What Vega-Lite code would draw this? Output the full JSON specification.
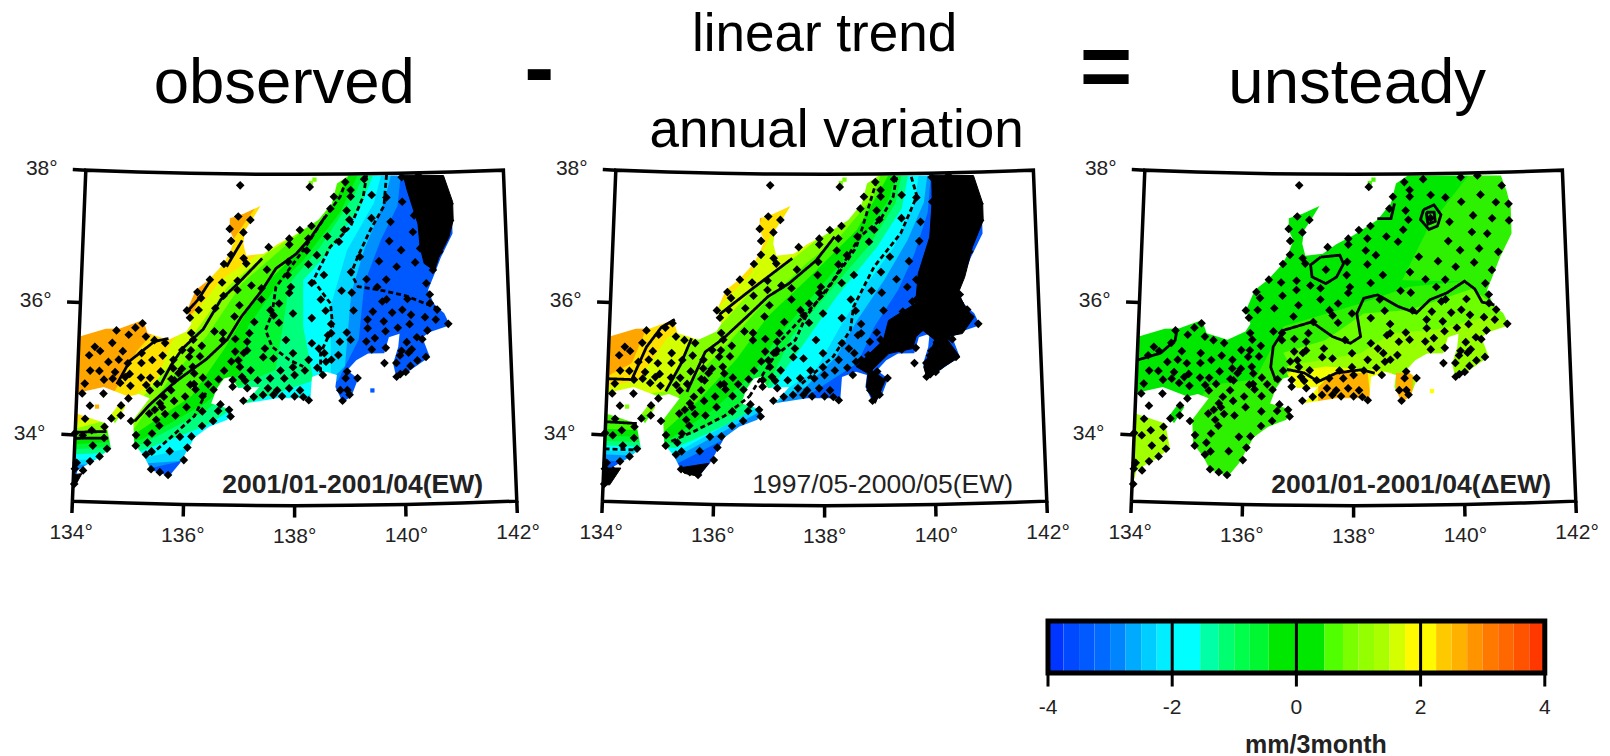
{
"$schema":"https://vega.github.io/schema/vega-lite/v6.json",
"autosize":{"type":"pad"},"padding":0,"background":"white","spacing":0,
"config":{"view":{"stroke":null},"concat":{"spacing":0},"text":{"font":"Liberation Sans"}},
"datasets":{
"stations":[{"lon":136.96,"lat":37.83},{"lon":138.29,"lat":37.81},{"lon":138.97,"lat":37.88},{"lon":139.33,"lat":37.92},{"lon":140.05,"lat":37.94},{"lon":140.37,"lat":37.96},{"lon":140.83,"lat":37.8},{"lon":139.07,"lat":37.76},{"lon":139.07,"lat":37.66},{"lon":139.47,"lat":37.68},{"lon":139.75,"lat":37.64},{"lon":140.05,"lat":37.57},{"lon":140.42,"lat":37.67},{"lon":140.71,"lat":37.55},{"lon":140.95,"lat":37.52},{"lon":138.75,"lat":37.66},{"lon":138.68,"lat":37.48},{"lon":138.99,"lat":37.45},{"lon":139.46,"lat":37.33},{"lon":139.82,"lat":37.27},{"lon":140.27,"lat":37.36},{"lon":140.63,"lat":37.31},{"lon":140.95,"lat":37.27},{"lon":139.04,"lat":37.31},{"lon":136.93,"lat":37.36},{"lon":137.16,"lat":37.31},{"lon":138.32,"lat":37.22},{"lon":138.1,"lat":37.16},{"lon":138.94,"lat":37.16},{"lon":140.24,"lat":37.11},{"lon":140.53,"lat":37.08},{"lon":136.77,"lat":37.17},{"lon":137.03,"lat":37.12},{"lon":137.9,"lat":37.03},{"lon":138.26,"lat":37.03},{"lon":138.62,"lat":37.06},{"lon":137.9,"lat":36.94},{"lon":138.84,"lat":36.98},{"lon":139.79,"lat":36.98},{"lon":140.37,"lat":36.86},{"lon":140.01,"lat":36.84},{"lon":136.8,"lat":36.99},{"lon":137.51,"lat":36.9},{"lon":138.23,"lat":36.85},{"lon":138.42,"lat":36.78},{"lon":136.8,"lat":36.78},{"lon":139.23,"lat":36.75},{"lon":140.73,"lat":36.8},{"lon":137.04,"lat":36.73},{"lon":137.09,"lat":36.65},{"lon":137.48,"lat":36.56},{"lon":137.88,"lat":36.68},{"lon":136.67,"lat":36.64},{"lon":138.26,"lat":36.64},{"lon":139.59,"lat":36.68},{"lon":139.92,"lat":36.59},{"lon":140.27,"lat":36.65},{"lon":140.6,"lat":36.53},{"lon":137.87,"lat":36.48},{"lon":138.55,"lat":36.48},{"lon":139.06,"lat":36.52},{"lon":139.35,"lat":36.41},{"lon":139.72,"lat":36.4},{"lon":140.47,"lat":36.33},{"lon":136.41,"lat":36.4},{"lon":136.64,"lat":36.36},{"lon":136.93,"lat":36.39},{"lon":137.19,"lat":36.32},{"lon":137.93,"lat":36.3},{"lon":138.32,"lat":36.36},{"lon":138.88,"lat":36.24},{"lon":139.07,"lat":36.21},{"lon":139.55,"lat":36.29},{"lon":136.18,"lat":36.21},{"lon":136.67,"lat":36.16},{"lon":136.93,"lat":36.25},{"lon":137.38,"lat":36.28},{"lon":137.9,"lat":36.21},{"lon":136.25,"lat":36.12},{"lon":137.38,"lat":36.11},{"lon":138.49,"lat":36.11},{"lon":140.53,"lat":36.16},{"lon":139.72,"lat":36.1},{"lon":136.97,"lat":36.02},{"lon":137.71,"lat":36.05},{"lon":140.11,"lat":36.1},{"lon":139.64,"lat":36.07},{"lon":137.97,"lat":35.9},{"lon":135.99,"lat":35.93},{"lon":136.21,"lat":35.94},{"lon":136.52,"lat":35.97},{"lon":137.55,"lat":35.95},{"lon":138.58,"lat":35.94},{"lon":139.1,"lat":35.94},{"lon":139.46,"lat":35.92},{"lon":139.82,"lat":35.9},{"lon":140.01,"lat":35.94},{"lon":140.17,"lat":35.86},{"lon":140.43,"lat":35.82},{"lon":140.66,"lat":35.93},{"lon":140.53,"lat":36.03},{"lon":136.05,"lat":35.82},{"lon":136.88,"lat":35.85},{"lon":137.61,"lat":35.87},{"lon":138.32,"lat":35.83},{"lon":139.36,"lat":35.8},{"lon":139.66,"lat":35.77},{"lon":139.92,"lat":35.67},{"lon":140.14,"lat":35.72},{"lon":140.63,"lat":35.78},{"lon":140.86,"lat":35.71},{"lon":137.25,"lat":35.77},{"lon":137.71,"lat":35.76},{"lon":138.68,"lat":35.74},{"lon":138.97,"lat":35.61},{"lon":139.36,"lat":35.67},{"lon":139.69,"lat":35.62},{"lon":140.47,"lat":35.62},{"lon":135.17,"lat":35.72},{"lon":135.04,"lat":35.65},{"lon":136.51,"lat":35.62},{"lon":136.67,"lat":35.6},{"lon":137.16,"lat":35.6},{"lon":136.08,"lat":35.59},{"lon":134.92,"lat":35.54},{"lon":135.24,"lat":35.52},{"lon":134.69,"lat":35.6},{"lon":138.62,"lat":35.57},{"lon":138.68,"lat":35.6},{"lon":139.49,"lat":35.52},{"lon":139.33,"lat":35.47},{"lon":140.08,"lat":35.45},{"lon":140.27,"lat":35.52},{"lon":140.37,"lat":35.49},{"lon":135.4,"lat":35.47},{"lon":135.6,"lat":35.43},{"lon":134.62,"lat":35.41},{"lon":136.12,"lat":35.49},{"lon":136.67,"lat":35.49},{"lon":136.9,"lat":35.51},{"lon":137.12,"lat":35.47},{"lon":137.84,"lat":35.5},{"lon":138.32,"lat":35.45},{"lon":138.84,"lat":35.47},{"lon":139.04,"lat":35.5},{"lon":134.3,"lat":35.34},{"lon":134.82,"lat":35.29},{"lon":135.17,"lat":35.27},{"lon":135.92,"lat":35.33},{"lon":136.08,"lat":35.33},{"lon":136.28,"lat":35.4},{"lon":137.12,"lat":35.34},{"lon":137.45,"lat":35.37},{"lon":138.45,"lat":35.37},{"lon":138.55,"lat":35.3},{"lon":139.43,"lat":35.35},{"lon":139.69,"lat":35.37},{"lon":140.17,"lat":35.34},{"lon":139.98,"lat":35.32},{"lon":134.2,"lat":35.21},{"lon":134.4,"lat":35.28},{"lon":135.56,"lat":35.24},{"lon":134.75,"lat":35.16},{"lon":135.76,"lat":35.18},{"lon":136.05,"lat":35.23},{"lon":136.25,"lat":35.24},{"lon":136.9,"lat":35.32},{"lon":137.06,"lat":35.3},{"lon":137.42,"lat":35.24},{"lon":137.61,"lat":35.22},{"lon":137.97,"lat":35.3},{"lon":138.68,"lat":35.2},{"lon":138.81,"lat":35.27},{"lon":140.43,"lat":35.22},{"lon":140.27,"lat":35.17},{"lon":139.95,"lat":35.25},{"lon":140.11,"lat":35.29},{"lon":134.56,"lat":35.12},{"lon":134.92,"lat":35.11},{"lon":135.17,"lat":35.12},{"lon":135.37,"lat":35.17},{"lon":135.76,"lat":35.05},{"lon":136.12,"lat":35.08},{"lon":136.83,"lat":35.17},{"lon":136.96,"lat":35.19},{"lon":136.99,"lat":35.09},{"lon":138.26,"lat":35.2},{"lon":138.58,"lat":35.17},{"lon":139.88,"lat":35.14},{"lon":140.14,"lat":35.09},{"lon":139.66,"lat":35.14},{"lon":134.23,"lat":34.98},{"lon":134.4,"lat":34.98},{"lon":134.69,"lat":34.97},{"lon":134.96,"lat":34.95},{"lon":135.34,"lat":34.9},{"lon":135.53,"lat":35},{"lon":135.73,"lat":34.89},{"lon":135.92,"lat":35.05},{"lon":136.15,"lat":34.98},{"lon":136.7,"lat":35.03},{"lon":137.19,"lat":35.04},{"lon":137.74,"lat":35.04},{"lon":137.97,"lat":35.09},{"lon":138.19,"lat":35.04},{"lon":138.42,"lat":35.08},{"lon":138.97,"lat":35.02},{"lon":140.05,"lat":35},{"lon":139.95,"lat":34.97},{"lon":139.88,"lat":34.93},{"lon":134.14,"lat":34.78},{"lon":134.49,"lat":34.85},{"lon":134.65,"lat":34.87},{"lon":134.88,"lat":34.9},{"lon":135.17,"lat":34.9},{"lon":135.86,"lat":34.98},{"lon":136.15,"lat":34.82},{"lon":136.31,"lat":34.92},{"lon":136.41,"lat":34.82},{"lon":136.6,"lat":34.9},{"lon":136.86,"lat":34.89},{"lon":137.03,"lat":34.94},{"lon":137.09,"lat":34.88},{"lon":137.32,"lat":34.89},{"lon":137.55,"lat":34.92},{"lon":137.81,"lat":34.92},{"lon":138,"lat":34.97},{"lon":138.52,"lat":34.97},{"lon":139.16,"lat":34.92},{"lon":138.94,"lat":34.92},{"lon":134.49,"lat":34.64},{"lon":134.1,"lat":34.63},{"lon":134.79,"lat":34.81},{"lon":134.98,"lat":34.77},{"lon":135.27,"lat":34.79},{"lon":135.47,"lat":34.81},{"lon":135.79,"lat":34.87},{"lon":135.73,"lat":34.72},{"lon":136.08,"lat":34.81},{"lon":136.51,"lat":34.74},{"lon":136.86,"lat":34.79},{"lon":137.13,"lat":34.77},{"lon":137.51,"lat":34.77},{"lon":137.68,"lat":34.74},{"lon":137.9,"lat":34.77},{"lon":138.1,"lat":34.74},{"lon":138.84,"lat":34.74},{"lon":138.97,"lat":34.74},{"lon":134.25,"lat":34.45},{"lon":134.95,"lat":34.58},{"lon":135.34,"lat":34.71},{"lon":135.6,"lat":34.62},{"lon":135.53,"lat":34.52},{"lon":135.79,"lat":34.56},{"lon":135.99,"lat":34.63},{"lon":136.18,"lat":34.74},{"lon":136.31,"lat":34.64},{"lon":137.25,"lat":34.64},{"lon":137.06,"lat":34.58},{"lon":137.42,"lat":34.67},{"lon":137.61,"lat":34.67},{"lon":137.77,"lat":34.65},{"lon":138,"lat":34.65},{"lon":138.16,"lat":34.64},{"lon":138.26,"lat":34.59},{"lon":138.88,"lat":34.58},{"lon":139.01,"lat":34.67},{"lon":134.82,"lat":34.47},{"lon":135.57,"lat":34.46},{"lon":135.63,"lat":34.36},{"lon":135.44,"lat":34.42},{"lon":135.82,"lat":34.34},{"lon":136.02,"lat":34.47},{"lon":136.31,"lat":34.41},{"lon":136.64,"lat":34.52},{"lon":136.6,"lat":34.42},{"lon":136.8,"lat":34.44},{"lon":136.83,"lat":34.34},{"lon":134.82,"lat":34.32},{"lon":134.65,"lat":34.27},{"lon":135.01,"lat":34.24},{"lon":135.47,"lat":34.27},{"lon":135.34,"lat":34.36},{"lon":135.53,"lat":34.18},{"lon":136.31,"lat":34.19},{"lon":136.51,"lat":34.27},{"lon":134.17,"lat":34.25},{"lon":134.53,"lat":34.14},{"lon":134.3,"lat":34.08},{"lon":134.14,"lat":34},{"lon":135.11,"lat":34.03},{"lon":135.4,"lat":34.06},{"lon":134.53,"lat":33.97},{"lon":134,"lat":34.03},{"lon":136.12,"lat":34.03},{"lon":135.91,"lat":34.02},{"lon":134.33,"lat":33.85},{"lon":135.11,"lat":33.87},{"lon":135.32,"lat":33.92},{"lon":134.59,"lat":33.81},{"lon":136.05,"lat":33.86},{"lon":135.73,"lat":33.8},{"lon":135.4,"lat":33.79},{"lon":135.3,"lat":33.74},{"lon":134.46,"lat":33.69},{"lon":134.29,"lat":33.61},{"lon":134.05,"lat":33.58},{"lon":134.17,"lat":33.47},{"lon":134.02,"lat":33.49},{"lon":135.4,"lat":33.52},{"lon":135.56,"lat":33.48},{"lon":135.71,"lat":33.44},{"lon":134.02,"lat":33.26},{"lon":135.99,"lat":33.67}],
"frame":[{"id":"box","lon":134,"lat":33},{"id":"box","lon":134,"lat":38},{"id":"box","lon":135,"lat":38},{"id":"box","lon":136,"lat":38},{"id":"box","lon":137,"lat":38},{"id":"box","lon":138,"lat":38},{"id":"box","lon":139,"lat":38},{"id":"box","lon":140,"lat":38},{"id":"box","lon":141,"lat":38},{"id":"box","lon":142,"lat":38},{"id":"box","lon":142,"lat":33},{"id":"box","lon":141,"lat":33},{"id":"box","lon":140,"lat":33},{"id":"box","lon":139,"lat":33},{"id":"box","lon":138,"lat":33},{"id":"box","lon":137,"lat":33},{"id":"box","lon":136,"lat":33},{"id":"box","lon":135,"lat":33},{"id":"box","lon":134,"lat":33},{"id":"t134","lon":134,"lat":33},{"id":"t134","lon":134,"lat":32.82},{"id":"t136","lon":136,"lat":33},{"id":"t136","lon":136,"lat":32.82},{"id":"t138","lon":138,"lat":33},{"id":"t138","lon":138,"lat":32.82},{"id":"t140","lon":140,"lat":33},{"id":"t140","lon":140,"lat":32.82},{"id":"t142","lon":142,"lat":33},{"id":"t142","lon":142,"lat":32.82},{"id":"l38","lon":134,"lat":38},{"id":"l38","lon":133.75,"lat":38},{"id":"l36","lon":134,"lat":36},{"id":"l36","lon":133.75,"lat":36},{"id":"l34","lon":134,"lat":34},{"id":"l34","lon":133.75,"lat":34}],
"ticklabels":[{"lon":134,"lat":32.52,"t":"134°"},{"lon":136,"lat":32.52,"t":"136°"},{"lon":138,"lat":32.52,"t":"138°"},{"lon":140,"lat":32.52,"t":"140°"},{"lon":142,"lat":32.52,"t":"142°"}],
"latlabels":[{"lon":133.46,"lat":38,"t":"38°"},{"lon":133.46,"lat":36,"t":"36°"},{"lon":133.46,"lat":34,"t":"34°"}],
"mask":[{"type":"Feature","properties":{},"geometry":{"type":"Polygon","coordinates":[
[[133.7,32.8],[133.7,38.3],[142.3,38.3],[142.3,32.8],[133.7,32.8]],
[[134.49,34.74],[134.95,34.61],[135.14,34.65],[135.34,34.59],[135.05,34.26],[135.08,33.9],[135.27,33.71],[135.4,33.51],[135.73,33.42],[135.92,33.62],[136.18,34.02],[136.44,34.18],[136.77,34.29],[136.86,34.44],[136.47,34.53],[136.57,34.76],[136.7,34.91],[136.83,34.94],[136.96,34.77],[137.35,34.79],[137.09,34.54],[137.68,34.62],[138.29,34.62],[138.32,34.94],[138.58,35.02],[138.78,34.97],[138.75,34.79],[138.88,34.56],[139.04,34.64],[139.17,34.91],[138.97,35.04],[139.14,35.19],[139.36,35.29],[139.66,35.29],[139.75,35.53],[139.95,35.58],[139.92,35.38],[139.82,35.13],[139.88,34.9],[140.14,35.03],[140.5,35.22],[140.37,35.52],[140.53,35.6],[140.89,35.69],[140.79,35.87],[140.6,36.02],[140.5,36.23],[140.63,36.47],[140.76,36.72],[140.99,37.07],[140.99,37.47],[140.92,37.72],[140.82,37.95],[139.04,37.98],[138.81,37.86],[138.71,37.56],[138.45,37.31],[138,37.08],[137.68,36.95],[137.42,36.8],[137.09,36.77],[137.03,36.95],[137.06,37.15],[137.19,37.31],[137.35,37.52],[137.03,37.4],[136.77,37.33],[136.77,37.15],[136.86,37],[136.77,36.8],[136.64,36.62],[136.38,36.39],[136.15,36.24],[135.99,35.93],[136.08,35.73],[135.99,35.61],[135.66,35.48],[135.27,35.57],[135.18,35.77],[134.75,35.63],[134.49,35.62],[133.98,35.48],[133.98,34.63],[134.49,34.74]],
[[133.98,34.33],[133.98,33.28],[134.01,33.25],[134.07,33.47],[134.43,33.66],[134.66,33.82],[134.56,34.19],[133.98,34.33]],
[[134.62,34.3],[134.72,34.2],[134.9,34.45],[134.79,34.5],[134.62,34.3]]
]}}],
"bands":[
{"type":"Feature","properties":{"p":1,"v":2.7},"geometry":{"type":"Polygon","coordinates":[[[133.8,33],[133.8,38.1],[142.2,38.1],[142.2,33],[133.8,33]]]}},
{"type":"Feature","properties":{"p":1,"v":2.2},"geometry":{"type":"Polygon","coordinates":[[[133.8,34.19],[134.7,34.69],[135.08,35.3],[135.34,35.55],[136.11,35.9],[136.37,36.4],[136.88,37.06],[137.26,37.5],[137.65,38.1],[142.2,38.1],[142.2,33],[133.8,33],[133.8,34.19]]]}},
{"type":"Feature","properties":{"p":1,"v":1.6},"geometry":{"type":"Polygon","coordinates":[[[133.8,34.12],[134.76,34.44],[135.47,34.89],[135.72,35.45],[136.62,36.4],[137.33,36.8],[137.46,37.26],[138.29,38.1],[142.2,38.1],[142.2,33],[133.8,33],[133.8,34.12]]]}},
{"type":"Feature","properties":{"p":1,"v":1},"geometry":{"type":"Polygon","coordinates":[[[133.8,34.04],[134.96,34.34],[135.6,35],[135.98,35.4],[136.75,36.3],[137.46,36.8],[138.16,37.16],[138.67,38.1],[142.2,38.1],[142.2,33],[133.8,33],[133.8,34.04]]]}},
{"type":"Feature","properties":{"p":1,"v":0.5},"geometry":{"type":"Polygon","coordinates":[[[133.8,33.99],[135.08,34.14],[135.66,34.84],[136.37,35.55],[137.01,36.35],[137.65,36.8],[138.54,37.41],[138.93,38.1],[142.2,38.1],[142.2,33],[133.8,33],[133.8,33.99]]]}},
{"type":"Feature","properties":{"p":1,"v":0},"geometry":{"type":"Polygon","coordinates":[[[133.8,33.91],[135.08,34.04],[136.11,34.64],[136.69,35.35],[137.39,36.3],[138.03,36.8],[138.67,37.46],[139.12,38.1],[142.2,38.1],[142.2,33],[133.8,33],[133.8,33.91]]]}},
{"type":"Feature","properties":{"p":1,"v":-0.6},"geometry":{"type":"Polygon","coordinates":[[[133.8,33.84],[135.21,33.96],[136.37,34.54],[137.01,35],[137.13,35.7],[137.65,36.3],[138.16,36.7],[138.87,37.43],[139.28,38.1],[142.2,38.1],[142.2,33],[133.8,33],[133.8,33.84]]]}},
{"type":"Feature","properties":{"p":1,"v":-1.2},"geometry":{"type":"Polygon","coordinates":[[[133.8,33.76],[135.21,33.89],[136.37,34.42],[136.94,34.79],[137.65,35.05],[137.78,35.7],[137.9,36.35],[138.48,36.9],[139.12,37.66],[139.41,38.1],[142.2,38.1],[142.2,33],[133.8,33],[133.8,33.76]]]}},
{"type":"Feature","properties":{"p":1,"v":-1.8},"geometry":{"type":"Polygon","coordinates":[[[133.8,33.69],[135.21,33.79],[136.37,34.19],[136.94,34.49],[138.35,34.89],[138.16,35.7],[138.16,36.4],[138.67,36.85],[139.25,37.51],[139.57,38.1],[142.2,38.1],[142.2,33],[133.8,33],[133.8,33.69]]]}},
{"type":"Feature","properties":{"p":1,"v":-2.3},"geometry":{"type":"Polygon","coordinates":[[[133.8,33.61],[135.28,33.69],[136.11,33.86],[137.01,33.99],[138.67,34.89],[138.67,36],[138.99,36.85],[139.51,37.56],[139.7,38.1],[142.2,38.1],[142.2,33],[133.8,33],[133.8,33.61]]]}},
{"type":"Feature","properties":{"p":1,"v":-2.8},"geometry":{"type":"Polygon","coordinates":[[[133.8,33.54],[135.34,33.61],[136.37,33.69],[137.65,34.09],[138.93,35.1],[139.06,36.2],[139.31,36.85],[139.7,37.56],[139.89,38.1],[142.2,38.1],[142.2,33],[133.8,33],[133.8,33.54]]]}},
{"type":"Feature","properties":{"p":1,"v":-3.4},"geometry":{"type":"Polygon","coordinates":[[[133.8,33.46],[135.4,33.54],[137.65,33.99],[138.8,34.89],[139.19,35.5],[139.31,36.35],[139.63,37],[139.96,37.51],[140.05,38.1],[142.2,38.1],[142.2,33],[133.8,33],[133.8,33.46]]]}},
{"type":"Feature","properties":{"p":2,"v":2.7},"geometry":{"type":"Polygon","coordinates":[[[133.8,33],[133.8,38.1],[142.2,38.1],[142.2,33],[133.8,33]]]}},
{"type":"Feature","properties":{"p":2,"v":2.2},"geometry":{"type":"Polygon","coordinates":[[[133.8,34.79],[134.44,35.1],[134.7,35.65],[135.02,35.9],[136,36.1],[136.75,37.21],[136.88,37.51],[137.65,38.1],[142.2,38.1],[142.2,33],[133.8,33],[133.8,34.79]]]}},
{"type":"Feature","properties":{"p":2,"v":1.6},"geometry":{"type":"Polygon","coordinates":[[[133.8,34.69],[134.57,34.84],[135.08,35.5],[135.98,35.95],[136.62,36.5],[137.01,37.11],[137.39,37.56],[138.29,38.1],[142.2,38.1],[142.2,33],[133.8,33],[133.8,34.69]]]}},
{"type":"Feature","properties":{"p":2,"v":1},"geometry":{"type":"Polygon","coordinates":[[[133.8,34.49],[135.08,34.69],[135.47,35.4],[136.11,35.75],[136.69,36.3],[137.52,36.8],[138.16,37.21],[138.61,37.66],[138.93,38.1],[142.2,38.1],[142.2,33],[133.8,33],[133.8,34.49]]]}},
{"type":"Feature","properties":{"p":2,"v":0.5},"geometry":{"type":"Polygon","coordinates":[[[133.8,34.29],[135.08,34.34],[135.53,34.84],[136.17,35.4],[136.75,35.95],[137.65,36.65],[138.29,37.06],[138.93,37.66],[139.12,38.1],[142.2,38.1],[142.2,33],[133.8,33],[133.8,34.29]]]}},
{"type":"Feature","properties":{"p":2,"v":0},"geometry":{"type":"Polygon","coordinates":[[[133.8,34.09],[135.08,34.09],[135.66,34.54],[136.37,35.2],[136.94,35.85],[137.78,36.5],[138.61,37.16],[139.06,37.76],[139.31,38.1],[142.2,38.1],[142.2,33],[133.8,33],[133.8,34.09]]]}},
{"type":"Feature","properties":{"p":2,"v":-0.6},"geometry":{"type":"Polygon","coordinates":[[[133.8,33.99],[135.21,33.99],[135.98,34.44],[136.69,35],[137.13,35.55],[137.97,36.35],[138.74,37.06],[139.22,37.61],[139.41,38.1],[142.2,38.1],[142.2,33],[133.8,33],[133.8,33.99]]]}},
{"type":"Feature","properties":{"p":2,"v":-1.2},"geometry":{"type":"Polygon","coordinates":[[[133.8,33.91],[135.21,33.91],[136.24,34.34],[136.94,34.79],[137.39,35.55],[138.16,36.3],[138.87,36.95],[139.35,37.56],[139.51,38.1],[142.2,38.1],[142.2,33],[133.8,33],[133.8,33.91]]]}},
{"type":"Feature","properties":{"p":2,"v":-1.8},"geometry":{"type":"Polygon","coordinates":[[[133.8,33.84],[135.28,33.84],[136.56,34.34],[137.13,34.89],[137.58,35.4],[138.22,36.15],[138.99,36.9],[139.47,37.48],[139.63,38.1],[142.2,38.1],[142.2,33],[133.8,33],[133.8,33.84]]]}},
{"type":"Feature","properties":{"p":2,"v":-2.3},"geometry":{"type":"Polygon","coordinates":[[[133.8,33.76],[135.28,33.76],[137.01,34.59],[137.84,35.05],[138.29,35.7],[138.8,36.35],[139.31,36.9],[139.7,37.51],[139.83,38.1],[142.2,38.1],[142.2,33],[133.8,33],[133.8,33.76]]]}},
{"type":"Feature","properties":{"p":2,"v":-2.8},"geometry":{"type":"Polygon","coordinates":[[[133.8,33.71],[135.28,33.69],[137.65,34.79],[138.22,35.25],[138.61,35.8],[139.12,36.4],[139.57,37],[139.89,37.56],[139.99,38.1],[142.2,38.1],[142.2,33],[133.8,33],[133.8,33.71]]]}},
{"type":"Feature","properties":{"p":2,"v":-3.4},"geometry":{"type":"Polygon","coordinates":[[[133.8,33.61],[135.34,33.61],[137.65,34.64],[138.61,35.15],[138.93,35.7],[139.38,36.25],[139.7,36.8],[139.96,37.41],[140.05,38.1],[142.2,38.1],[142.2,33],[133.8,33],[133.8,33.61]]]}},
{"type":"Feature","properties":{"p":3,"v":0.1},"geometry":{"type":"Polygon","coordinates":[[[133.8,33],[133.8,38.1],[142.2,38.1],[142.2,33],[133.8,33]]]}},
{"type":"Feature","properties":{"p":3,"v":0.35},"geometry":{"type":"Polygon","coordinates":[[[138.91,36.4],[139.43,37.21],[140.34,38.1],[141.12,38.1],[141.12,36.4],[140.53,36.35],[138.91,36.4]]]}},
{"type":"Feature","properties":{"p":3,"v":0.35},"geometry":{"type":"Polygon","coordinates":[[[135.01,34.34],[135.34,34.79],[136.18,34.89],[136.44,35.3],[136.7,35.7],[138.13,36.05],[139.04,36.3],[140.53,36.4],[141.12,35.7],[140.53,34.49],[136.77,34.24],[136.05,33.29],[135.01,33.29],[135.01,34.34]]]}},
{"type":"Feature","properties":{"p":3,"v":0.8},"geometry":{"type":"Polygon","coordinates":[[[136.7,35.3],[137.48,35.5],[138.19,35.9],[139.04,35.95],[140.21,36.25],[140.99,35.8],[140.53,34.89],[139.04,34.49],[137.09,34.69],[136.7,35.3]]]}},
{"type":"Feature","properties":{"p":3,"v":1.2},"geometry":{"type":"Polygon","coordinates":[[[136.77,35.1],[138.13,35.3],[138.71,35.6],[139.56,35.65],[140.6,35.85],[140.92,35.7],[140.53,34.94],[139.04,34.49],[137.09,34.59],[136.77,35.1]]]}},
{"type":"Feature","properties":{"p":3,"v":1.8},"geometry":{"type":"Polygon","coordinates":[[[136.77,35],[137.48,35.1],[138.39,35.05],[138.71,35],[138.39,34.54],[137.03,34.54],[136.77,35]]]}},
{"type":"Feature","properties":{"p":3,"v":2.6},"geometry":{"type":"Polygon","coordinates":[[[137.35,34.79],[137.61,35],[138.26,35],[138.32,34.54],[137.35,34.54],[137.35,34.79]]]}},
{"type":"Feature","properties":{"p":3,"v":2.6},"geometry":{"type":"Polygon","coordinates":[[[138.78,35],[139.1,35],[139.07,34.54],[138.78,34.54],[138.78,35]]]}},
{"type":"Feature","properties":{"p":3,"v":1.3},"geometry":{"type":"Polygon","coordinates":[[[133.84,34.37],[134.59,34.37],[134.69,33.74],[134.43,33.24],[133.84,33.24],[133.84,34.37]]]}}
],
"black":[
{"type":"Feature","properties":{"p":1},"geometry":{"type":"Polygon","coordinates":[[[140.08,37.97],[140.85,37.95],[141.01,37.55],[141.01,37.27],[140.92,37.02],[140.72,36.72],[140.63,36.52],[140.44,36.63],[140.37,36.88],[140.34,37.23],[140.15,37.74],[140.08,37.97]]]}},
{"type":"Feature","properties":{"p":2},"geometry":{"type":"Polygon","coordinates":[[[140.05,37.97],[140.85,37.95],[141.01,37.53],[141.01,37.27],[140.79,36.87],[140.63,36.42],[140.5,36.18],[140.66,35.92],[140.79,35.82],[140.56,35.57],[140.24,35.53],[140.5,35.22],[140.21,35.08],[139.89,34.9],[139.83,35.08],[140.05,35.48],[139.83,35.63],[139.7,35.54],[139.63,35.36],[139.19,35.29],[138.87,35.04],[139.12,34.89],[138.93,34.54],[138.77,34.79],[138.8,34.99],[138.58,35.1],[139.09,35.49],[139.19,35.79],[139.7,36.04],[139.76,36.49],[139.99,37.04],[140.05,37.59],[140.05,37.97]]]}},
{"type":"Feature","properties":{"p":2},"geometry":{"type":"Polygon","coordinates":[[[135.37,33.54],[135.9,33.62],[135.72,33.42],[135.46,33.46],[135.37,33.54]]]}},
{"type":"Feature","properties":{"p":2},"geometry":{"type":"Polygon","coordinates":[[[133.99,33.5],[134.31,33.51],[134.12,33.25],[133.99,33.25],[133.99,33.5]]]}},
{"type":"Feature","properties":{"p":1},"geometry":{"type":"Polygon","coordinates":[[[134,33.4],[134.15,33.42],[134.05,33.25],[134,33.25],[134,33.4]]]}}
],
"extras":[{"p":1,"lon":139.43,"lat":34.73,"v":-3.4},{"p":1,"lon":138.38,"lat":37.92,"v":0.9},{"p":1,"lon":138.31,"lat":37.87,"v":0.9},{"p":2,"lon":138.38,"lat":37.92,"v":0.9},{"p":2,"lon":138.31,"lat":37.87,"v":0.9},{"p":3,"lon":138.38,"lat":37.92,"v":0.5},{"p":3,"lon":138.31,"lat":37.87,"v":0.5},{"p":3,"lon":139.44,"lat":34.72,"v":1.9},{"p":1,"lon":134.38,"lat":34.44,"v":2.6},{"p":2,"lon":134.38,"lat":34.44,"v":1}],
"contours":[
{"p":1,"id":"a","s":"solid","lon":135.08,"lat":34.24},{"p":1,"id":"a","s":"solid","lon":135.34,"lat":34.49},{"p":1,"id":"a","s":"solid","lon":135.79,"lat":34.84},{"p":1,"id":"a","s":"solid","lon":136.37,"lat":35.2},{"p":1,"id":"a","s":"solid","lon":136.75,"lat":35.5},{"p":1,"id":"a","s":"solid","lon":137.01,"lat":35.85},{"p":1,"id":"a","s":"solid","lon":137.39,"lat":36.25},{"p":1,"id":"a","s":"solid","lon":137.65,"lat":36.58},{"p":1,"id":"a","s":"solid","lon":138.03,"lat":36.8},{"p":1,"id":"a","s":"solid","lon":138.32,"lat":37.06},{"p":1,"id":"a","s":"solid","lon":138.58,"lat":37.36},
{"p":1,"id":"c","s":"solid","lon":135.53,"lat":34.79},{"p":1,"id":"c","s":"solid","lon":135.72,"lat":35.1},{"p":1,"id":"c","s":"solid","lon":135.92,"lat":35.35},{"p":1,"id":"c","s":"solid","lon":136.3,"lat":35.65},{"p":1,"id":"c","s":"solid","lon":136.62,"lat":36.1},{"p":1,"id":"c","s":"solid","lon":136.94,"lat":36.35},{"p":1,"id":"c","s":"solid","lon":137.39,"lat":36.73},
{"p":1,"id":"b","s":"solid","lon":134.73,"lat":34.79},{"p":1,"id":"b","s":"solid","lon":134.96,"lat":35.15},{"p":1,"id":"b","s":"solid","lon":135.4,"lat":35.45},{"p":1,"id":"b","s":"solid","lon":135.66,"lat":35.5},
{"p":1,"id":"n","s":"solid","lon":136.72,"lat":36.6},{"p":1,"id":"n","s":"solid","lon":137.01,"lat":37},
{"p":1,"id":"m","s":"solid","lon":135.98,"lat":35.9},{"p":1,"id":"m","s":"solid","lon":136.2,"lat":36.1},{"p":1,"id":"m","s":"solid","lon":136.43,"lat":36.4},
{"p":1,"id":"h1","s":"solid","lon":134,"lat":34.04},{"p":1,"id":"h1","s":"solid","lon":134.57,"lat":34.07},
{"p":1,"id":"h2","s":"solid","lon":134,"lat":33.95},{"p":1,"id":"h2","s":"solid","lon":134.6,"lat":33.97},
{"p":1,"id":"d2","s":"dash","lon":139.76,"lat":37.98},{"p":1,"id":"d2","s":"dash","lon":139.7,"lat":37.51},{"p":1,"id":"d2","s":"dash","lon":139.44,"lat":37.16},{"p":1,"id":"d2","s":"dash","lon":139.19,"lat":36.75},{"p":1,"id":"d2","s":"dash","lon":139.06,"lat":36.5},{"p":1,"id":"d2","s":"dash","lon":139.19,"lat":36.3},{"p":1,"id":"d2","s":"dash","lon":139.57,"lat":36.25},{"p":1,"id":"d2","s":"dash","lon":140.08,"lat":36.15},{"p":1,"id":"d2","s":"dash","lon":140.66,"lat":35.95},
{"p":1,"id":"d3","s":"dash","lon":139.38,"lat":37.98},{"p":1,"id":"d3","s":"dash","lon":139.31,"lat":37.66},{"p":1,"id":"d3","s":"dash","lon":139.06,"lat":37.21},{"p":1,"id":"d3","s":"dash","lon":138.67,"lat":36.9},{"p":1,"id":"d3","s":"dash","lon":138.35,"lat":36.4},{"p":1,"id":"d3","s":"dash","lon":138.67,"lat":36.05},{"p":1,"id":"d3","s":"dash","lon":138.71,"lat":35.7},{"p":1,"id":"d3","s":"dash","lon":138.48,"lat":35.3},{"p":1,"id":"d3","s":"dash","lon":138.48,"lat":35},
{"p":1,"id":"d4","s":"dash","lon":138.99,"lat":37.91},{"p":1,"id":"d4","s":"dash","lon":138.87,"lat":37.66},{"p":1,"id":"d4","s":"dash","lon":138.54,"lat":37.31},{"p":1,"id":"d4","s":"dash","lon":138.16,"lat":36.85},{"p":1,"id":"d4","s":"dash","lon":137.65,"lat":36.3},{"p":1,"id":"d4","s":"dash","lon":137.58,"lat":35.9},{"p":1,"id":"d4","s":"dash","lon":137.46,"lat":35.65},{"p":1,"id":"d4","s":"dash","lon":137.58,"lat":35.4},{"p":1,"id":"d4","s":"dash","lon":137.9,"lat":35.2},{"p":1,"id":"d4","s":"dash","lon":138.16,"lat":35.1},
{"p":1,"id":"d5","s":"dash","lon":135.39,"lat":33.74},{"p":1,"id":"d5","s":"dash","lon":135.72,"lat":33.99},{"p":1,"id":"d5","s":"dash","lon":136.17,"lat":34.34},{"p":1,"id":"d5","s":"dash","lon":136.37,"lat":34.69},
{"p":2,"id":"a","s":"solid","lon":135.47,"lat":34.69},{"p":2,"id":"a","s":"solid","lon":135.79,"lat":35.3},{"p":2,"id":"a","s":"solid","lon":136.11,"lat":35.5},{"p":2,"id":"a","s":"solid","lon":136.56,"lat":35.85},{"p":2,"id":"a","s":"solid","lon":136.94,"lat":36.15},{"p":2,"id":"a","s":"solid","lon":137.33,"lat":36.35},{"p":2,"id":"a","s":"solid","lon":137.84,"lat":36.7},{"p":2,"id":"a","s":"solid","lon":138.19,"lat":37.06},
{"p":2,"id":"b","s":"solid","lon":136.04,"lat":35.87},{"p":2,"id":"b","s":"solid","lon":136.62,"lat":36.25},{"p":2,"id":"b","s":"solid","lon":137.39,"lat":36.73},
{"p":2,"id":"c","s":"solid","lon":134,"lat":34.85},{"p":2,"id":"c","s":"solid","lon":134.45,"lat":34.85},{"p":2,"id":"c","s":"solid","lon":134.7,"lat":35.35},{"p":2,"id":"c","s":"solid","lon":134.96,"lat":35.65},{"p":2,"id":"c","s":"solid","lon":135.21,"lat":35.78},
{"p":2,"id":"e","s":"solid","lon":135.08,"lat":34.69},{"p":2,"id":"e","s":"solid","lon":135.34,"lat":35.1},{"p":2,"id":"e","s":"solid","lon":135.53,"lat":35.5},
{"p":2,"id":"f","s":"solid","lon":134,"lat":34.2},{"p":2,"id":"f","s":"solid","lon":134.57,"lat":34.19},
{"p":2,"id":"d0","s":"dash","lon":135.21,"lat":33.94},{"p":2,"id":"d0","s":"dash","lon":135.6,"lat":34.09},{"p":2,"id":"d0","s":"dash","lon":136.17,"lat":34.34},{"p":2,"id":"d0","s":"dash","lon":136.62,"lat":34.64},
{"p":2,"id":"d1","s":"dash","lon":136.62,"lat":34.64},{"p":2,"id":"d1","s":"dash","lon":136.88,"lat":35},{"p":2,"id":"d1","s":"dash","lon":137.07,"lat":35.25},{"p":2,"id":"d1","s":"dash","lon":137.46,"lat":35.5},{"p":2,"id":"d1","s":"dash","lon":137.65,"lat":35.85},{"p":2,"id":"d1","s":"dash","lon":138.16,"lat":36.4},{"p":2,"id":"d1","s":"dash","lon":138.67,"lat":37.06},{"p":2,"id":"d1","s":"dash","lon":139.06,"lat":37.31},{"p":2,"id":"d1","s":"dash","lon":139.31,"lat":37.66},{"p":2,"id":"d1","s":"dash","lon":139.38,"lat":37.98},
{"p":2,"id":"d2","s":"dash","lon":137.58,"lat":34.84},{"p":2,"id":"d2","s":"dash","lon":138.16,"lat":35.25},{"p":2,"id":"d2","s":"dash","lon":138.48,"lat":35.65},{"p":2,"id":"d2","s":"dash","lon":138.54,"lat":36},{"p":2,"id":"d2","s":"dash","lon":138.93,"lat":36.6},{"p":2,"id":"d2","s":"dash","lon":139.44,"lat":37.1},{"p":2,"id":"d2","s":"dash","lon":139.76,"lat":37.66},{"p":2,"id":"d2","s":"dash","lon":139.65,"lat":37.98},
{"p":2,"id":"d3","s":"dash","lon":137.2,"lat":35.5},{"p":2,"id":"d3","s":"dash","lon":138,"lat":36.2},{"p":2,"id":"d3","s":"dash","lon":138.6,"lat":36.9},{"p":2,"id":"d3","s":"dash","lon":139,"lat":37.91},
{"p":2,"id":"d4","s":"dash","lon":134,"lat":33.79},{"p":2,"id":"d4","s":"dash","lon":134.57,"lat":33.79},
{"p":3,"id":"main","s":"solid","lon":136.57,"lat":34.87},{"p":3,"id":"main","s":"solid","lon":136.47,"lat":35.08},{"p":3,"id":"main","s":"solid","lon":136.51,"lat":35.39},{"p":3,"id":"main","s":"solid","lon":136.7,"lat":35.64},{"p":3,"id":"main","s":"solid","lon":137.22,"lat":35.77},{"p":3,"id":"main","s":"solid","lon":137.61,"lat":35.55},{"p":3,"id":"main","s":"solid","lon":137.94,"lat":35.45},{"p":3,"id":"main","s":"solid","lon":138.13,"lat":35.55},{"p":3,"id":"main","s":"solid","lon":138.06,"lat":35.9},{"p":3,"id":"main","s":"solid","lon":138.19,"lat":36.13},{"p":3,"id":"main","s":"solid","lon":138.45,"lat":36.18},{"p":3,"id":"main","s":"solid","lon":138.84,"lat":36},{"p":3,"id":"main","s":"solid","lon":139.17,"lat":35.9},{"p":3,"id":"main","s":"solid","lon":139.43,"lat":36.1},{"p":3,"id":"main","s":"solid","lon":139.75,"lat":36.2},{"p":3,"id":"main","s":"solid","lon":140.08,"lat":36.37},{"p":3,"id":"main","s":"solid","lon":140.27,"lat":36.25},{"p":3,"id":"main","s":"solid","lon":140.4,"lat":36.05},{"p":3,"id":"main","s":"solid","lon":140.63,"lat":36},
{"p":3,"id":"l1","s":"solid","lon":137.38,"lat":36.75},{"p":3,"id":"l1","s":"solid","lon":137.74,"lat":36.78},{"p":3,"id":"l1","s":"solid","lon":137.81,"lat":36.65},{"p":3,"id":"l1","s":"solid","lon":137.68,"lat":36.45},{"p":3,"id":"l1","s":"solid","lon":137.48,"lat":36.35},{"p":3,"id":"l1","s":"solid","lon":137.22,"lat":36.45},{"p":3,"id":"l1","s":"solid","lon":137.19,"lat":36.63},{"p":3,"id":"l1","s":"solid","lon":137.38,"lat":36.75},
{"p":3,"id":"l2","s":"solid","lon":139.33,"lat":37.46},{"p":3,"id":"l2","s":"solid","lon":139.53,"lat":37.53},{"p":3,"id":"l2","s":"solid","lon":139.66,"lat":37.38},{"p":3,"id":"l2","s":"solid","lon":139.59,"lat":37.21},{"p":3,"id":"l2","s":"solid","lon":139.43,"lat":37.16},{"p":3,"id":"l2","s":"solid","lon":139.27,"lat":37.31},{"p":3,"id":"l2","s":"solid","lon":139.33,"lat":37.46},
{"p":3,"id":"l3","s":"solid","lon":139.38,"lat":37.42},{"p":3,"id":"l3","s":"solid","lon":139.53,"lat":37.42},{"p":3,"id":"l3","s":"solid","lon":139.55,"lat":37.28},{"p":3,"id":"l3","s":"solid","lon":139.41,"lat":37.24},{"p":3,"id":"l3","s":"solid","lon":139.38,"lat":37.42},
{"p":3,"id":"arc","s":"solid","lon":138.45,"lat":37.33},{"p":3,"id":"arc","s":"solid","lon":138.71,"lat":37.33},{"p":3,"id":"arc","s":"solid","lon":138.78,"lat":37.56},
{"p":3,"id":"w","s":"solid","lon":134,"lat":35.13},{"p":3,"id":"w","s":"solid","lon":134.43,"lat":35.25},{"p":3,"id":"w","s":"solid","lon":134.69,"lat":35.45},{"p":3,"id":"w","s":"solid","lon":134.72,"lat":35.63},
{"p":3,"id":"s","s":"solid","lon":136.77,"lat":35.05},{"p":3,"id":"s","s":"solid","lon":137.09,"lat":35},{"p":3,"id":"s","s":"solid","lon":137.35,"lat":34.87},{"p":3,"id":"s","s":"solid","lon":137.68,"lat":35},{"p":3,"id":"s","s":"solid","lon":138.13,"lat":35.05},{"p":3,"id":"s","s":"solid","lon":138.39,"lat":35}
]
},
"vconcat":[
{"bounds":"flush","spacing":0,"hconcat":[
{"width":530,"height":600,
 "projection":{"type":"conicEquidistant","rotate":[-138,0],"center":[0,35.5],"parallels":[33,38],"scale":3796,"translate":[294.6,340]},
 "layer":[
 {"data":{"name":"bands"},"transform":[{"filter":"datum.properties.p==1"}],"mark":{"type":"geoshape","stroke":null},"encoding":{"color":{"field":"properties.v","type":"quantitative","legend":null,"scale":{"domain":[-4,-3,-2.1,-1.8,-1.3,-0.8,-0.2,0.2,0.6,1.3,1.9,2.2,3,4],"range":["#0a28ff","#0070ff","#00eeff","#00ffff","#00ff88","#00ff40","#00e800","#00e800","#50ff00","#a0ff00","#ffff00","#ffe000","#ff8000","#ff2000"]}}}},
 {"data":{"name":"mask"},"mark":{"type":"geoshape","fill":"white","stroke":null}},
 {"data":{"name":"black"},"transform":[{"filter":"datum.properties.p==1"}],"mark":{"type":"geoshape","fill":"black","stroke":"black"}},
 {"data":{"name":"extras"},"transform":[{"filter":"datum.p==1"}],"mark":{"type":"point","shape":"square","filled":true,"size":18,"opacity":1},"encoding":{"longitude":{"field":"lon"},"latitude":{"field":"lat"},"color":{"field":"v","type":"quantitative","legend":null,"scale":{"domain":[-4,-3,-2.1,-1.8,-1.3,-0.8,-0.2,0.2,0.6,1.3,1.9,2.2,3,4],"range":["#0a28ff","#0070ff","#00eeff","#00ffff","#00ff88","#00ff40","#00e800","#00e800","#50ff00","#a0ff00","#ffff00","#ffe000","#ff8000","#ff2000"]}}}},
 {"data":{"name":"contours"},"transform":[{"filter":"datum.p==1"}],"mark":{"type":"line","color":"black","strokeWidth":2.8},"encoding":{"longitude":{"field":"lon"},"latitude":{"field":"lat"},"detail":{"field":"id"},"strokeDash":{"field":"s","legend":null,"scale":{"domain":["solid","dash"],"range":[[1,0],[5,3]]}}}},
 {"data":{"name":"stations"},"mark":{"type":"point","shape":"diamond","filled":true,"color":"black","size":75,"opacity":1},"encoding":{"longitude":{"field":"lon"},"latitude":{"field":"lat"}}},
 {"data":{"name":"frame"},"mark":{"type":"line","color":"black","strokeWidth":3.5,"clip":false},"encoding":{"longitude":{"field":"lon"},"latitude":{"field":"lat"},"detail":{"field":"id"}}},
 {"data":{"name":"ticklabels"},"mark":{"type":"text","fontSize":21,"color":"#222","align":"center","baseline":"middle","clip":false},"encoding":{"longitude":{"field":"lon"},"latitude":{"field":"lat"},"text":{"field":"t"}}},
 {"data":{"name":"latlabels"},"mark":{"type":"text","fontSize":21,"color":"#222","align":"right","baseline":"middle","clip":false},"encoding":{"longitude":{"field":"lon"},"latitude":{"field":"lat"},"text":{"field":"t"}}},
 {"data":{"values":[{"lon":139.05,"lat":33.31,"t":"2001/01-2001/04(EW)"}]},"mark":{"type":"text","fontSize":26.5,"fontWeight":"bold","color":"#222","align":"center","baseline":"middle","clip":false},"encoding":{"longitude":{"field":"lon"},"latitude":{"field":"lat"},"text":{"field":"t"}}},
 {"data":{"values":[{"lon":137.8,"lat":39.08,"t":"observed"}]},"mark":{"type":"text","fontSize":63.5,"color":"black","align":"center","baseline":"alphabetic","clip":false},"encoding":{"longitude":{"field":"lon"},"latitude":{"field":"lat"},"text":{"field":"t"}}}
 ]},
{"width":529,"height":600,
 "projection":{"type":"conicEquidistant","rotate":[-138,0],"center":[0,35.5],"parallels":[33,38],"scale":3796,"translate":[294.6,340]},
 "layer":[
 {"data":{"name":"bands"},"transform":[{"filter":"datum.properties.p==2"}],"mark":{"type":"geoshape","stroke":null},"encoding":{"color":{"field":"properties.v","type":"quantitative","legend":null,"scale":{"domain":[-4,-3,-2.1,-1.8,-1.3,-0.8,-0.2,0.2,0.6,1.3,1.9,2.2,3,4],"range":["#0a28ff","#0070ff","#00eeff","#00ffff","#00ff88","#00ff40","#00e800","#00e800","#50ff00","#a0ff00","#ffff00","#ffe000","#ff8000","#ff2000"]}}}},
 {"data":{"name":"mask"},"mark":{"type":"geoshape","fill":"white","stroke":null}},
 {"data":{"name":"black"},"transform":[{"filter":"datum.properties.p==2"}],"mark":{"type":"geoshape","fill":"black","stroke":"black"}},
 {"data":{"name":"extras"},"transform":[{"filter":"datum.p==2"}],"mark":{"type":"point","shape":"square","filled":true,"size":18,"opacity":1},"encoding":{"longitude":{"field":"lon"},"latitude":{"field":"lat"},"color":{"field":"v","type":"quantitative","legend":null,"scale":{"domain":[-4,-3,-2.1,-1.8,-1.3,-0.8,-0.2,0.2,0.6,1.3,1.9,2.2,3,4],"range":["#0a28ff","#0070ff","#00eeff","#00ffff","#00ff88","#00ff40","#00e800","#00e800","#50ff00","#a0ff00","#ffff00","#ffe000","#ff8000","#ff2000"]}}}},
 {"data":{"name":"contours"},"transform":[{"filter":"datum.p==2"}],"mark":{"type":"line","color":"black","strokeWidth":2.8},"encoding":{"longitude":{"field":"lon"},"latitude":{"field":"lat"},"detail":{"field":"id"},"strokeDash":{"field":"s","legend":null,"scale":{"domain":["solid","dash"],"range":[[1,0],[5,3]]}}}},
 {"data":{"name":"stations"},"mark":{"type":"point","shape":"diamond","filled":true,"color":"black","size":75,"opacity":1},"encoding":{"longitude":{"field":"lon"},"latitude":{"field":"lat"}}},
 {"data":{"name":"frame"},"mark":{"type":"line","color":"black","strokeWidth":3.5,"clip":false},"encoding":{"longitude":{"field":"lon"},"latitude":{"field":"lat"},"detail":{"field":"id"}}},
 {"data":{"name":"ticklabels"},"mark":{"type":"text","fontSize":21,"color":"#222","align":"center","baseline":"middle","clip":false},"encoding":{"longitude":{"field":"lon"},"latitude":{"field":"lat"},"text":{"field":"t"}}},
 {"data":{"name":"latlabels"},"mark":{"type":"text","fontSize":21,"color":"#222","align":"right","baseline":"middle","clip":false},"encoding":{"longitude":{"field":"lon"},"latitude":{"field":"lat"},"text":{"field":"t"}}},
 {"data":{"values":[{"lon":139.05,"lat":33.31,"t":"1997/05-2000/05(EW)"}]},"mark":{"type":"text","fontSize":26.5,"color":"#222","align":"center","baseline":"middle","clip":false},"encoding":{"longitude":{"field":"lon"},"latitude":{"field":"lat"},"text":{"field":"t"}}},
 {"data":{"values":[{"lon":138,"lat":39.86,"t":"linear trend"},{"lon":138.23,"lat":38.41,"t":"annual variation"}]},"mark":{"type":"text","fontSize":53,"color":"black","align":"center","baseline":"alphabetic","clip":false},"encoding":{"longitude":{"field":"lon"},"latitude":{"field":"lat"},"text":{"field":"t"}}},
 {"data":{"values":[{"lon":132.46,"lat":39.03,"t":"-"}]},"mark":{"type":"text","fontSize":90,"fontWeight":"bold","color":"black","align":"center","baseline":"alphabetic","clip":false},"encoding":{"longitude":{"field":"lon"},"latitude":{"field":"lat"},"text":{"field":"t"}}}
 ]},
 {"width":551,"height":600,
 "projection":{"type":"conicEquidistant","rotate":[-138,0],"center":[0,35.5],"parallels":[33,38],"scale":3796,"translate":[294.6,340]},
 "layer":[
 {"data":{"name":"bands"},"transform":[{"filter":"datum.properties.p==3"}],"mark":{"type":"geoshape","stroke":null},"encoding":{"color":{"field":"properties.v","type":"quantitative","legend":null,"scale":{"domain":[-4,-3,-2.1,-1.8,-1.3,-0.8,-0.2,0.2,0.6,1.3,1.9,2.2,3,4],"range":["#0a28ff","#0070ff","#00eeff","#00ffff","#00ff88","#00ff40","#00e800","#00e800","#50ff00","#a0ff00","#ffff00","#ffe000","#ff8000","#ff2000"]}}}},
 {"data":{"name":"mask"},"mark":{"type":"geoshape","fill":"white","stroke":null}},
 {"data":{"name":"extras"},"transform":[{"filter":"datum.p==3"}],"mark":{"type":"point","shape":"square","filled":true,"size":18,"opacity":1},"encoding":{"longitude":{"field":"lon"},"latitude":{"field":"lat"},"color":{"field":"v","type":"quantitative","legend":null,"scale":{"domain":[-4,-3,-2.1,-1.8,-1.3,-0.8,-0.2,0.2,0.6,1.3,1.9,2.2,3,4],"range":["#0a28ff","#0070ff","#00eeff","#00ffff","#00ff88","#00ff40","#00e800","#00e800","#50ff00","#a0ff00","#ffff00","#ffe000","#ff8000","#ff2000"]}}}},
 {"data":{"name":"contours"},"transform":[{"filter":"datum.p==3"}],"mark":{"type":"line","color":"black","strokeWidth":2.8},"encoding":{"longitude":{"field":"lon"},"latitude":{"field":"lat"},"detail":{"field":"id"},"strokeDash":{"field":"s","legend":null,"scale":{"domain":["solid","dash"],"range":[[1,0],[5,3]]}}}},
 {"data":{"name":"stations"},"mark":{"type":"point","shape":"diamond","filled":true,"color":"black","size":75,"opacity":1},"encoding":{"longitude":{"field":"lon"},"latitude":{"field":"lat"}}},
 {"data":{"name":"frame"},"mark":{"type":"line","color":"black","strokeWidth":3.5,"clip":false},"encoding":{"longitude":{"field":"lon"},"latitude":{"field":"lat"},"detail":{"field":"id"}}},
 {"data":{"name":"ticklabels"},"mark":{"type":"text","fontSize":21,"color":"#222","align":"center","baseline":"middle","clip":false},"encoding":{"longitude":{"field":"lon"},"latitude":{"field":"lat"},"text":{"field":"t"}}},
 {"data":{"name":"latlabels"},"mark":{"type":"text","fontSize":21,"color":"#222","align":"right","baseline":"middle","clip":false},"encoding":{"longitude":{"field":"lon"},"latitude":{"field":"lat"},"text":{"field":"t"}}},
 {"data":{"values":[{"lon":139.04,"lat":33.31,"t":"2001/01-2001/04(ΔEW)"}]},"mark":{"type":"text","fontSize":26.5,"fontWeight":"bold","color":"#222","align":"center","baseline":"middle","clip":false},"encoding":{"longitude":{"field":"lon"},"latitude":{"field":"lat"},"text":{"field":"t"}}},
 {"data":{"values":[{"lon":138.07,"lat":39.08,"t":"unsteady"}]},"mark":{"type":"text","fontSize":63.5,"color":"black","align":"center","baseline":"alphabetic","clip":false},"encoding":{"longitude":{"field":"lon"},"latitude":{"field":"lat"},"text":{"field":"t"}}},
 {"data":{"values":[{"lon":133.19,"lat":39.08,"t":"="}]},"mark":{"type":"text","fontSize":90,"fontWeight":"bold","color":"black","align":"center","baseline":"alphabetic","clip":false},"encoding":{"longitude":{"field":"lon"},"latitude":{"field":"lat"},"text":{"field":"t"}}}
 ]}
]},
 {"width":1610,"height":156,
 "layer":[
 {"data":{"values":[{"a":-4,"b":-3.75,"v":-3.875},{"a":-3.75,"b":-3.5,"v":-3.625},{"a":-3.5,"b":-3.25,"v":-3.375},{"a":-3.25,"b":-3,"v":-3.125},{"a":-3,"b":-2.75,"v":-2.875},{"a":-2.75,"b":-2.5,"v":-2.625},{"a":-2.5,"b":-2.25,"v":-2.375},{"a":-2.25,"b":-2,"v":-2.1},{"a":-2,"b":-1.55,"v":-1.8},{"a":-1.55,"b":-1.25,"v":-1.4},{"a":-1.25,"b":-1,"v":-1.1},{"a":-1,"b":-0.75,"v":-0.85},{"a":-0.75,"b":-0.45,"v":-0.6},{"a":-0.45,"b":0,"v":-0.2},{"a":0,"b":0.45,"v":0.2},{"a":0.45,"b":0.75,"v":0.6},{"a":0.75,"b":1,"v":0.9},{"a":1,"b":1.25,"v":1.15},{"a":1.25,"b":1.5,"v":1.35},{"a":1.5,"b":1.75,"v":1.6},{"a":1.75,"b":2.25,"v":1.95},{"a":2.25,"b":2.5,"v":2.4},{"a":2.5,"b":2.75,"v":2.6},{"a":2.75,"b":3,"v":2.85},{"a":3,"b":3.25,"v":3.1},{"a":3.25,"b":3.5,"v":3.35},{"a":3.5,"b":3.75,"v":3.6},{"a":3.75,"b":4,"v":3.85}]},
  "mark":{"type":"rect"},"encoding":{"x":{"field":"a","type":"quantitative","axis":null,"scale":{"domain":[-20.876,5.05],"nice":false,"zero":false}},"x2":{"field":"b"},"y":{"datum":0,"type":"quantitative","axis":null,"scale":{"domain":[-1.596,1.404],"nice":false,"zero":false}},"y2":{"datum":1},"color":{"field":"v","type":"quantitative","legend":null,"scale":{"domain":[-4,-3,-2.1,-1.8,-1.3,-0.8,-0.2,0.2,0.6,1.3,1.9,2.2,3,4],"range":["#0a28ff","#0070ff","#00eeff","#00ffff","#00ff88","#00ff40","#00e800","#00e800","#50ff00","#a0ff00","#ffff00","#ffe000","#ff8000","#ff2000"]}}}},
 {"data":{"values":[{"a":-4,"b":4}]},"mark":{"type":"rect","fill":null,"stroke":"black","strokeWidth":5},"encoding":{"x":{"field":"a","type":"quantitative"},"x2":{"field":"b"},"y":{"datum":0,"type":"quantitative"},"y2":{"datum":1}}},
 {"data":{"values":[{"t":-4,"l":"-4"},{"t":-2,"l":"-2"},{"t":0,"l":"0"},{"t":2,"l":"2"},{"t":4,"l":"4"}]},"mark":{"type":"rule","color":"black","strokeWidth":3},"encoding":{"x":{"field":"t","type":"quantitative"},"y":{"datum":-0.26,"type":"quantitative"},"y2":{"datum":1}}},
 {"data":{"values":[{"t":-4,"l":"-4"},{"t":-2,"l":"-2"},{"t":0,"l":"0"},{"t":2,"l":"2"},{"t":4,"l":"4"}]},"mark":{"type":"text","fontSize":21,"color":"#222","baseline":"middle","align":"center"},"encoding":{"x":{"field":"t","type":"quantitative"},"y":{"datum":-0.67,"type":"quantitative"},"text":{"field":"l"}}},
 {"data":{"values":[{"t":0.315,"l":"mm/3month"}]},"mark":{"type":"text","fontSize":25,"fontWeight":"bold","color":"#222","baseline":"middle","align":"center"},"encoding":{"x":{"field":"t","type":"quantitative"},"y":{"datum":-1.375,"type":"quantitative"},"text":{"field":"l"}}}
 ]}
]
}
